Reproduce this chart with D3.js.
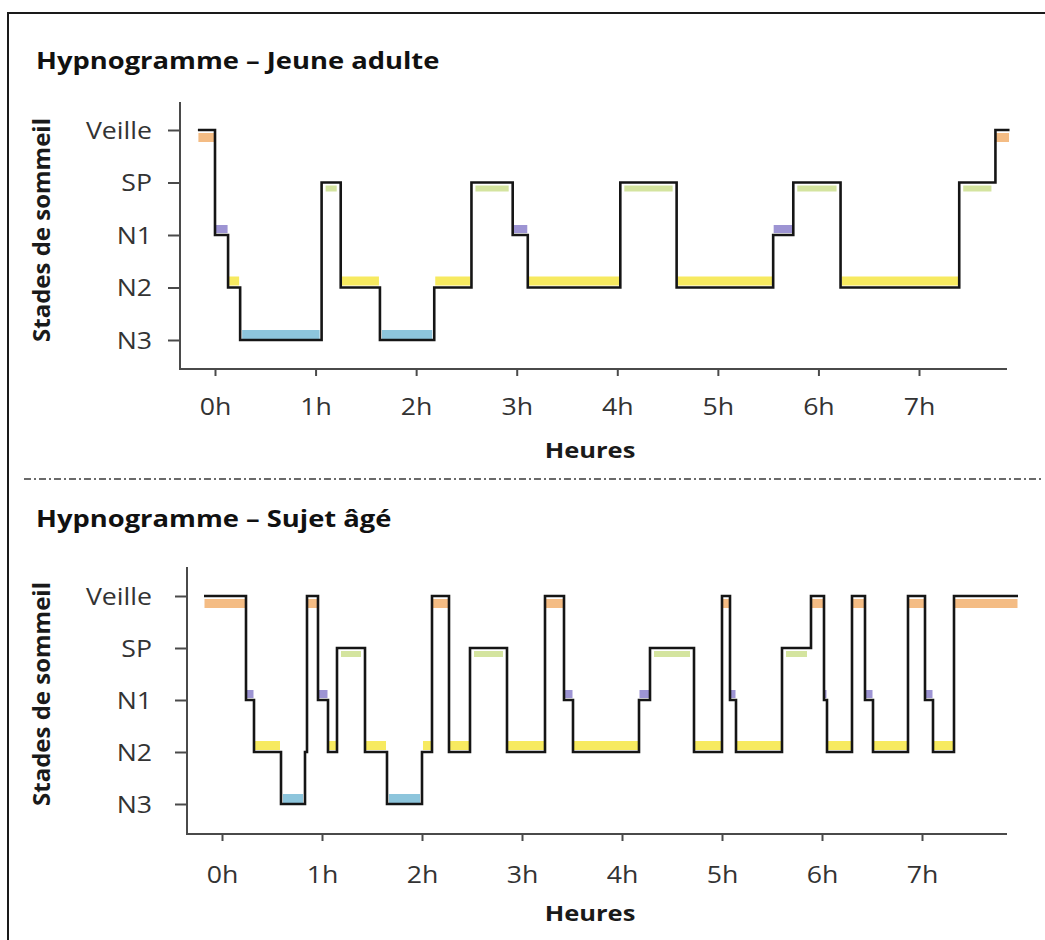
<!DOCTYPE html>
<html><head><meta charset="utf-8">
<script src="https://cdn.jsdelivr.net/npm/d3@7"></script>
<style>body{margin:0;background:#fff;} svg{display:block;}</style>
</head><body><svg id="chart" width="1045" height="940"></svg>
<script>
// ---------- data ----------
const stages = ["Veille", "SP", "N1", "N2", "N3"];
const hourTicks = [0, 1, 2, 3, 4, 5, 6, 7];
const hourLabels = ["0h", "1h", "2h", "3h", "4h", "5h", "6h", "7h"];
const titleYoung = "Hypnogramme – Jeune adulte";
const titleOld = "Hypnogramme – Sujet âgé";
const yAxisTitle = "Stades de sommeil";
const xAxisTitle = "Heures";

const youngStarts = [-0.17, 0.00, 0.13, 0.25, 1.06, 1.25, 1.64, 2.18, 2.55, 2.96, 3.11, 4.03, 4.59, 5.55, 5.75, 6.22, 7.40, 7.76];
const youngStages = ["Veille", "N1", "N2", "N3", "SP", "N2", "N3", "N2", "SP", "N1", "N2", "SP", "N2", "N1", "SP", "N2", "SP", "Veille"];
const youngEnd = 7.90;

const oldStarts = [-0.18, 0.24, 0.32, 0.59, 0.83, 0.85, 0.96, 1.06, 1.15, 1.43, 1.65, 2.00, 2.10, 2.27, 2.48, 2.85, 3.23, 3.42, 3.51, 4.17, 4.28, 4.72, 5.00, 5.08, 5.14, 5.60, 5.89, 6.02, 6.05, 6.30, 6.43, 6.51, 6.86, 7.03, 7.11, 7.32];
const oldStages = ["Veille", "N1", "N2", "N3", "N2", "Veille", "N1", "N2", "SP", "N2", "N3", "N2", "Veille", "N2", "SP", "N2", "Veille", "N1", "N2", "N1", "SP", "N2", "Veille", "N1", "N2", "SP", "Veille", "N1", "N2", "Veille", "N1", "N2", "Veille", "N1", "N2", "Veille"];
const oldEnd = 7.96;

// ---------- styles ----------
const stageColor = {Veille: "#f4bc84", SP: "#d4e49f", N1: "#9d94d3", N2: "#f7ea60", N3: "#8dc5dc"};
const bandOffset = {Veille: [3, 12], SP: [3, 9], N1: [-10, -2], N2: [-11, -2], N3: [-10, -1]};
const bandInset = {Veille: 0.5, SP: 4, N1: 0.5, N2: 1, N3: 2};
const FONT = "'Open Sans', 'DejaVu Sans', sans-serif";
const titleStyle = {size: 24, sx: 1.14};
const tickStyle = {size: 23, sx: 1.16};
const xTitleStyle = {size: 22, sx: 1.16};

const layouts = [
  {titleX: 36, titleY: 69, axisX: 180, axisTop: 102, axisBottom: 369, axisRight: 1007,
   xRange: [215, 919], yRange: [130, 340], labelRight: 152, tickLabelY: 407, xTitleX: 590, xTitleY: 450, yTitleX: 42, yTitleY: 230},
  {titleX: 36, titleY: 527, axisX: 187, axisTop: 567, axisBottom: 834, axisRight: 1007,
   xRange: [222, 922], yRange: [596, 804], labelRight: 152, tickLabelY: 875, xTitleX: 590, xTitleY: 913, yTitleX: 42, yTitleY: 694}
];
const panels = [
  {title: titleYoung, starts: youngStarts, stages: youngStages, end: youngEnd},
  {title: titleOld, starts: oldStarts, stages: oldStages, end: oldEnd}
];

const svg = d3.select("#chart");
svg.append("rect").attr("width", 1045).attr("height", 940).attr("fill", "#fff");

// frame
svg.append("path").attr("d", "M8,940 L8,13 L1045,13").attr("fill", "none").attr("stroke", "#1a1a1a").attr("stroke-width", 2);
// separator
svg.append("line").attr("x1", 24).attr("x2", 1042).attr("y1", 479).attr("y2", 479)
  .attr("stroke", "#3a3a3a").attr("stroke-width", 1.4).attr("stroke-dasharray", "7,3,2,3");

panels.forEach((p, idx) => {
  const L = layouts[idx];
  const g = svg.append("g");
  const x = d3.scaleLinear().domain([0, 7]).range(L.xRange);
  const y = d3.scalePoint().domain(stages).range(L.yRange);

  // title
  g.append("text").attr("transform", `translate(${L.titleX},${L.titleY}) scale(${titleStyle.sx},1)`)
    .attr("font-family", FONT).attr("font-weight", 700).attr("font-size", titleStyle.size).attr("fill", "#111")
    .text(p.title);

  // segments
  const segs = p.starts.map((s, i) => ({t0: s, t1: i + 1 < p.starts.length ? p.starts[i + 1] : p.end, stage: p.stages[i]}));

  // colored bands
  g.append("g").selectAll("rect").data(segs).join("rect")
    .attr("x", d => x(d.t0) + bandInset[d.stage])
    .attr("width", d => Math.max(0, x(d.t1) - x(d.t0) - 2 * bandInset[d.stage]))
    .attr("y", d => y(d.stage) + bandOffset[d.stage][0])
    .attr("height", d => bandOffset[d.stage][1] - bandOffset[d.stage][0])
    .attr("fill", d => stageColor[d.stage]);

  // axes
  const yAxis = d3.axisLeft(y).tickSize(12).tickSizeOuter(0).tickPadding(0);
  const gy = g.append("g").attr("transform", `translate(${L.axisX},0)`).call(yAxis);
  gy.select(".domain").remove();
  gy.selectAll(".tick line").attr("stroke", "#4a4a4a").attr("stroke-width", 2);
  gy.selectAll(".tick text").attr("x", null).attr("dy", "0.35em")
    .attr("transform", `translate(${L.labelRight - L.axisX},0) scale(${tickStyle.sx},1)`)
    .attr("text-anchor", "end").attr("font-family", FONT).attr("font-size", tickStyle.size).attr("fill", "#333");

  const xAxis = d3.axisBottom(x).tickValues(hourTicks).tickFormat((d, i) => hourLabels[i]).tickSize(7).tickSizeOuter(0);
  const gx = g.append("g").attr("transform", `translate(0,${L.axisBottom})`).call(xAxis);
  gx.select(".domain").remove();
  gx.selectAll(".tick line").attr("stroke", "#4a4a4a").attr("stroke-width", 2);
  gx.selectAll(".tick text").attr("y", null).attr("dy", "0.35em")
    .attr("transform", `translate(0,${L.tickLabelY - L.axisBottom}) scale(${tickStyle.sx},1)`)
    .attr("font-family", FONT).attr("font-size", tickStyle.size).attr("fill", "#333");

  // axis lines
  g.append("path").attr("d", `M${L.axisX},${L.axisTop} L${L.axisX},${L.axisBottom} L${L.axisRight},${L.axisBottom}`)
    .attr("fill", "none").attr("stroke", "#4a4a4a").attr("stroke-width", 2);

  // hypnogram step line
  const pts = segs.map(d => [d.t0, d.stage]).concat([[p.end, segs[segs.length - 1].stage]]);
  const line = d3.line().x(d => x(d[0])).y(d => y(d[1])).curve(d3.curveStepAfter);
  g.append("path").attr("d", line(pts)).attr("fill", "none").attr("stroke", "#151515")
    .attr("stroke-width", 2.6).attr("stroke-linejoin", "miter");

  // axis titles
  g.append("text").attr("transform", `translate(${L.xTitleX},${L.xTitleY}) scale(${xTitleStyle.sx},1)`)
    .attr("dy", "0.35em").attr("text-anchor", "middle").attr("font-family", FONT).attr("font-weight", 700)
    .attr("font-size", xTitleStyle.size).attr("fill", "#1a1a1a").text(xAxisTitle);
  g.append("text").attr("transform", `translate(${L.yTitleX},${L.yTitleY}) rotate(-90)`)
    .attr("dy", "0.35em").attr("text-anchor", "middle").attr("font-family", FONT).attr("font-weight", 700)
    .attr("font-size", 24).attr("fill", "#1a1a1a").text(yAxisTitle);
});
</script></body></html>
